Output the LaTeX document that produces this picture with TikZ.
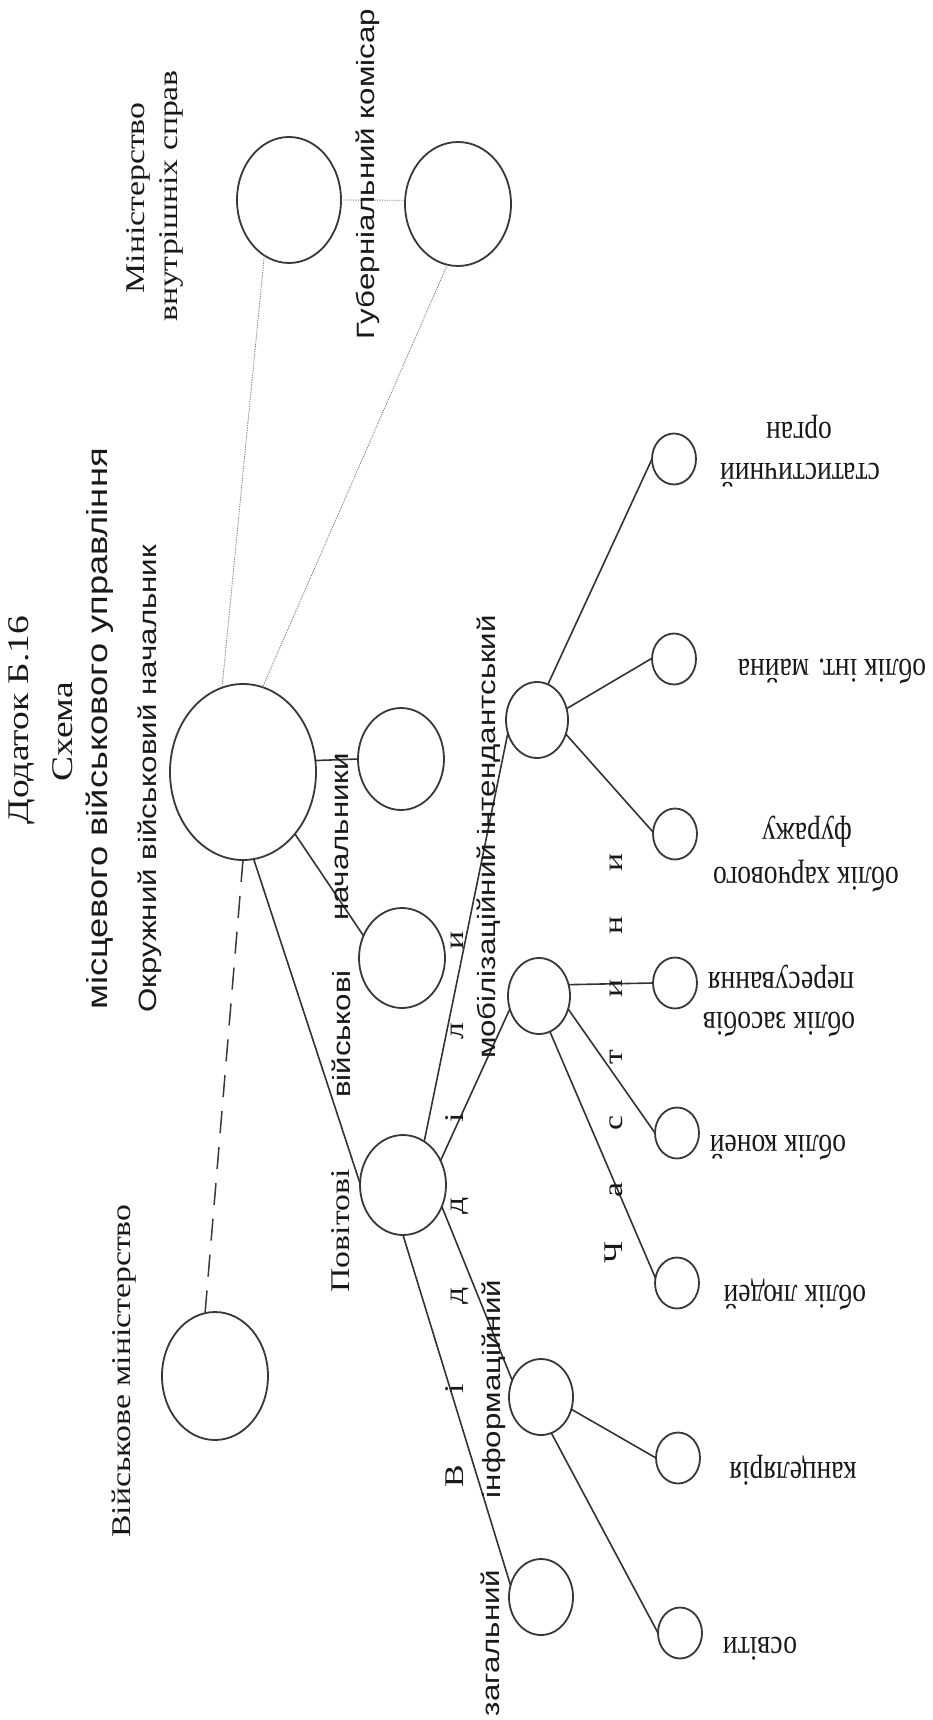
\documentclass[tikz,border=0pt]{standalone}
\usepackage{fontspec}
\setmainfont{Liberation Serif}
\newfontfamily\sansf{Liberation Sans}
\usetikzlibrary{shapes.geometric}
\newcommand\szTitle{\fontsize{30}{34}\selectfont}
\newcommand\szTitleSans{\fontsize{29}{33}\selectfont}
\newcommand\szSans{\fontsize{25}{29}\selectfont}
\newcommand\szSerif{\fontsize{27}{31}\selectfont}
\newcommand\szRight{\fontsize{27.5}{31}\selectfont}
\begin{document}
\begin{tikzpicture}[x=1pt,y=-1pt,
  ell/.style 2 args={ellipse, draw=black!78, line width=1.8pt, inner sep=0pt, outer sep=0pt, minimum width=#1pt, minimum height=#2pt},
  con/.style={draw=black!80, line width=1.6pt},
  dotl/.style={draw=black!50, line width=0.9pt, dash pattern=on 1.2pt off 1.2pt},
  dsh/.style={draw=black!78, line width=1.5pt, dash pattern=on 22pt off 14pt},
  tl/.style={inner sep=0pt, anchor=mid, text=black!90, yscale=1.25, rotate=90},
  td/.style={inner sep=0pt, anchor=mid, text=black!90, yscale=1.25, rotate=180}]
\fill[white] (0,0) rectangle (933,1720);
\useasboundingbox (0,0) rectangle (933,1720);

% ellipses
\node[ell={104}{126}] (mvs) at (289,200) {};
\node[ell={106}{124}] (gub) at (458,204) {};
\node[ell={146}{176}] (okr) at (243,772) {};
\node[ell={86}{102}] (nach1) at (401,759) {};
\node[ell={86}{100}] (nach2) at (402,958) {};
\node[ell={106}{128}] (vm) at (215,1376) {};
\node[ell={86}{100}] (pov) at (403,1185) {};
\node[ell={62}{76}] (int) at (537,720) {};
\node[ell={62}{76}] (mob) at (539,996) {};
\node[ell={64}{76}] (info) at (541,1397) {};
\node[ell={64}{76}] (zag) at (541,1597) {};
\node[ell={44}{51}] (stat) at (674,459) {};
\node[ell={44}{51}] (mayna) at (674,659) {};
\node[ell={44}{51}] (furazh) at (675,834) {};
\node[ell={44}{51}] (zasob) at (675,983) {};
\node[ell={44}{51}] (koni) at (677,1133) {};
\node[ell={44}{51}] (lyudi) at (677,1283) {};
\node[ell={44}{51}] (kanc) at (678,1458) {};
\node[ell={44}{51}] (osv) at (680,1633) {};

% connectors
\draw[dotl] (mvs.0) -- (gub.176);
\draw[dotl] (mvs.246) -- (okr.104);
\draw[dotl] (gub.260) -- (okr.77);
\draw[con] (okr.9) -- (nach1.180);
\draw[con] (okr.-50) -- (nach2.150);
\draw[dsh] (okr.-90) -- (vm.99);
\draw[con] (okr.-83) -- (pov.178);
\draw[con] (pov.64) -- (int.204);
\draw[con] (pov.33) -- (mob.204);
\draw[con] (pov.-29) -- (info.150);
\draw[con] (pov.-90) -- (zag.159);
\draw[con] (int.73) -- (stat.180);
\draw[con] (int.21) -- (mayna.178);
\draw[con] (int.-26) -- (furazh.175);
\draw[con] (mob.21) -- (zasob.180);
\draw[con] (mob.-24) -- (koni.180);
\draw[con] (mob.-73) -- (lyudi.167);
\draw[con] (info.-22) -- (kanc.180);
\draw[con] (info.-74) -- (osv.180);

% title
\node[tl, font=\szTitle] (t1) at (26,720) {Додаток Б.16};
\node[tl, font=\szTitle] (t2) at (70,732) {Схема};
\node[tl, font={\sansf\szTitleSans}] (t3) at (105,729) {місцевого військового управління};

% left / middle labels
\node[tl, font={\sansf\szSans}] (lokr) at (154,779) {Окружний військовий начальник};
\node[tl, font=\szSerif] (lmvs1) at (142,198) {Міністерство};
\node[tl, font=\szSerif] (lmvs2) at (175,196) {внутрішніх справ};
\node[tl, font={\sansf\szSans}] (lgub) at (372,174) {Губерніальний комісар};
\node[tl, font={\sansf\szSans}] (lnach) at (346,837) {начальники};
\node[tl, font={\sansf\szSans}] (lvijs) at (348,1034) {військові};
\node[tl, font=\szSerif] (lpov) at (347,1231) {Повітові};
\node[tl, font=\szSerif] (lvm) at (128,1371) {Військове міністерство};
\node[tl, font={\sansf\szSans}] (lmob) at (493,837) {мобілізаційний інтендантський};
\node[tl, font={\sansf\szSans}] (linfo) at (498,1389) {інформаційний};
\node[tl, font={\sansf\szSans}] (lzag) at (497,1643) {загальний};

% spaced letters
\node[tl, font=\szSerif] (v1) at (461,1476) {В};
\node[tl, font=\szSerif] (v2) at (461,1389) {і};
\node[tl, font=\szSerif] (v3) at (461,1296) {д};
\node[tl, font=\szSerif] (v4) at (461,1206) {д};
\node[tl, font=\szSerif] (v5) at (461,1118) {і};
\node[tl, font=\szSerif] (v6) at (461,1031) {л};
\node[tl, font=\szSerif] (v7) at (461,940) {и};
\node[tl, font=\szSerif] (c1) at (620,1253) {Ч};
\node[tl, font=\szSerif] (c2) at (620,1190) {а};
\node[tl, font=\szSerif] (c3) at (620,1123) {с};
\node[tl, font=\szSerif] (c4) at (620,1057) {т};
\node[tl, font=\szSerif] (c5) at (620,988) {и};
\node[tl, font=\szSerif] (c6) at (620,925) {н};
\node[tl, font=\szSerif] (c7) at (620,862) {и};

% right labels (upside down)
\node[td, font=\szRight] (r1a) at (800,466) {статистичний};
\node[td, font=\szRight] (r1b) at (799,425) {орган};
\node[td, font=\szRight] (r2) at (832,662) {облік інт. майна};
\node[td, font=\szRight] (r3a) at (806,870) {облік харчового};
\node[td, font=\szRight] (r3b) at (807,826) {фуражу};
\node[td, font=\szRight] (r4a) at (779,1015) {облік засобів};
\node[td, font=\szRight] (r4b) at (781,975) {пересування};
\node[td, font=\szRight] (r5) at (778,1138) {облік коней};
\node[td, font=\szRight] (r6) at (795,1288) {облік людей};
\node[td, font=\szRight] (r7) at (793,1465) {канцелярія};
\node[td, font=\szRight] (r8) at (760,1640) {освіти};
\end{tikzpicture}
\end{document}
